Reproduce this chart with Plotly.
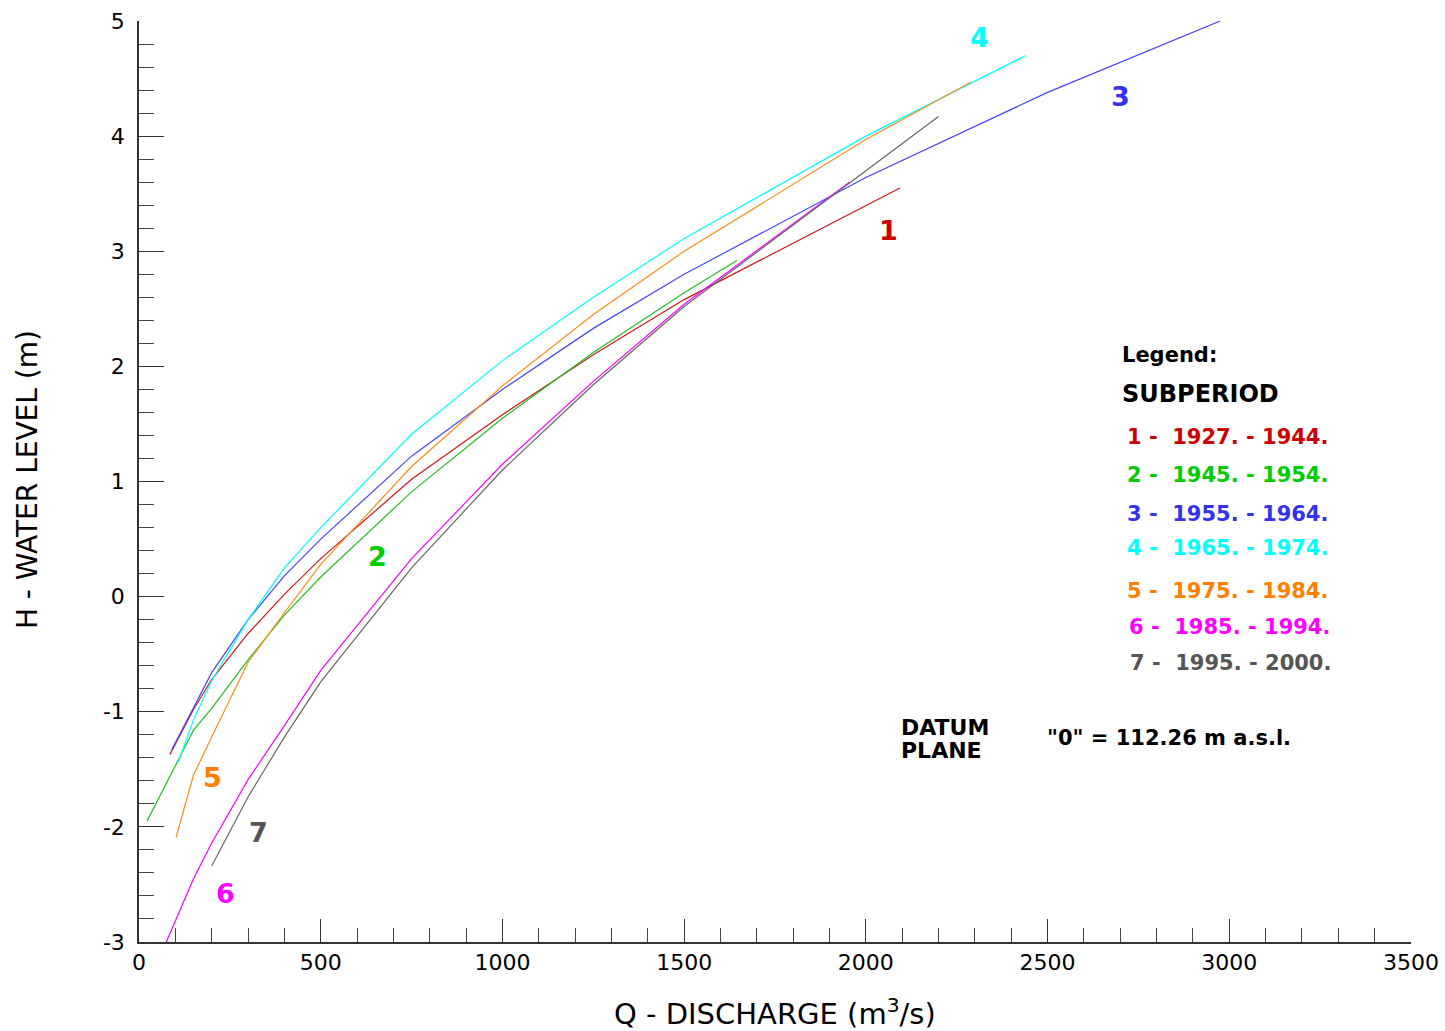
import plotly.graph_objects as go

# ---- data ----
q1 = [85, 150, 200, 300, 400, 500, 750, 1000, 1250, 1500, 2094]
h1 = [-1.37, -0.98, -0.72, -0.32, 0.02, 0.33, 1.02, 1.58, 2.10, 2.58, 3.55]

q2 = [22, 107, 150, 200, 300, 400, 500, 750, 1000, 1250, 1500, 1645]
h2 = [-1.95, -1.43, -1.16, -0.97, -0.55, -0.16, 0.17, 0.91, 1.55, 2.12, 2.64, 2.92]

q3 = [90, 150, 200, 300, 400, 500, 750, 1000, 1250, 1500, 2000, 2500, 2975]
h3 = [-1.33, -0.96, -0.66, -0.20, 0.18, 0.50, 1.22, 1.80, 2.33, 2.80, 3.64, 4.38, 5.00]

q4 = [108, 150, 200, 300, 400, 500, 750, 1000, 1250, 1500, 2000, 2440]
h4 = [-1.44, -1.07, -0.73, -0.20, 0.25, 0.60, 1.41, 2.05, 2.60, 3.11, 4.00, 4.70]

q5 = [102, 150, 200, 300, 400, 500, 750, 1000, 1250, 1500, 2000, 2290]
h5 = [-2.09, -1.55, -1.22, -0.57, -0.14, 0.28, 1.13, 1.83, 2.45, 3.00, 3.97, 4.47]

q6 = [75, 150, 200, 300, 400, 500, 750, 1000, 1250, 1500, 1955]
h6 = [-3.00, -2.45, -2.14, -1.59, -1.12, -0.64, 0.33, 1.15, 1.87, 2.54, 3.60]

q7 = [200, 300, 400, 500, 750, 1000, 1250, 1500, 2000, 2200]
h7 = [-2.34, -1.74, -1.22, -0.74, 0.25, 1.10, 1.84, 2.52, 3.70, 4.17]

series_q = [q1, q2, q3, q4, q5, q6, q7]
series_h = [h1, h2, h3, h4, h5, h6, h7]
line_colors = ["#D01818", "#22C022", "#4545FF", "#00FFFF", "#FF8C1A", "#FF00FF", "#666666"]
text_colors = ["#CC0000", "#00CC00", "#3333EE", "#00FFFF", "#FF8000", "#FF00FF", "#555555"]
subperiods = ["1927. - 1944.", "1945. - 1954.", "1955. - 1964.", "1965. - 1974.",
              "1975. - 1984.", "1985. - 1994.", "1995. - 2000."]

# curve number labels (data coordinates)
label_q = [2063, 655, 2702, 2314, 201, 237, 330]
label_h = [3.18, 0.35, 4.34, 4.86, -1.57, -2.58, -2.05]

# legend rows (data coordinates)
legend_q = [2713, 2713, 2713, 2713, 2713, 2718, 2720]
legend_h = [1.39, 1.06, 0.72, 0.426, 0.052, -0.26, -0.573]

x_ticks = [0, 500, 1000, 1500, 2000, 2500, 3000, 3500]
y_ticks = [-3, -2, -1, 0, 1, 2, 3, 4, 5]

FONT = "DejaVu Sans, Arial, sans-serif"

fig = go.Figure()
for i in range(7):
    fig.add_trace(go.Scatter(x=series_q[i], y=series_h[i], mode="lines",
                             line=dict(color=line_colors[i], width=1.2),
                             showlegend=False, hoverinfo="skip"))

for i in range(7):
    fig.add_annotation(x=label_q[i], y=label_h[i], xref="x", yref="y",
                       text="<b>%d</b>" % (i + 1), showarrow=False,
                       font=dict(family=FONT, size=27, color=text_colors[i]))

fig.add_annotation(x=2699, y=2.10, xref="x", yref="y", xanchor="left",
                   text="<b>Legend:</b>", showarrow=False,
                   font=dict(family=FONT, size=21, color="black"))
fig.add_annotation(x=2699, y=1.764, xref="x", yref="y", xanchor="left",
                   text="<b>SUBPERIOD</b>", showarrow=False,
                   font=dict(family=FONT, size=24, color="black"))
for i in range(7):
    fig.add_annotation(x=legend_q[i], y=legend_h[i], xref="x", yref="y", xanchor="left",
                       text="<b>%d -\u00a0\u00a0%s</b>" % (i + 1, subperiods[i]),
                       showarrow=False,
                       font=dict(family=FONT, size=21, color=text_colors[i]))

fig.add_annotation(x=2091, y=-1.138, xref="x", yref="y", xanchor="left",
                   text="<b>DATUM</b>", showarrow=False,
                   font=dict(family=FONT, size=22, color="black"))
fig.add_annotation(x=2091, y=-1.338, xref="x", yref="y", xanchor="left",
                   text="<b>PLANE</b>", showarrow=False,
                   font=dict(family=FONT, size=22, color="black"))
fig.add_annotation(x=2493, y=-1.225, xref="x", yref="y", xanchor="left",
                   text="<b>\"0\" = 112.26 m a.s.l.</b>", showarrow=False,
                   font=dict(family=FONT, size=21, color="black"))

# axis titles
fig.add_annotation(x=-0.088, y=0.5016, xref="paper", yref="paper",
                   xanchor="center", yanchor="middle",
                   text="H - WATER LEVEL (m)", textangle=-90, showarrow=False,
                   font=dict(family=FONT, size=28, color="black"))
fig.add_annotation(x=0.5, y=-0.076, xref="paper", yref="paper",
                   xanchor="center", yanchor="middle",
                   text="Q - DISCHARGE (m<sup>3</sup>/s)", showarrow=False,
                   font=dict(family=FONT, size=29, color="black"))

fig.update_xaxes(range=[0, 3500], tickvals=x_ticks, ticktext=[str(v) for v in x_ticks],
                 showgrid=False, zeroline=False, showline=True, linecolor="#333333",
                 linewidth=1.5, ticks="inside", ticklen=23, tickwidth=1.3, tickcolor="#333333",
                 minor=dict(ticks="inside", ticklen=14, dtick=100, tickwidth=1.3,
                            tickcolor="#444444", showgrid=False),
                 automargin=False,
                 tickfont=dict(family=FONT, size=22, color="black"))
fig.update_yaxes(range=[-3, 5], tickvals=y_ticks, ticktext=[str(v) for v in y_ticks],
                 showgrid=False, zeroline=False, showline=True, linecolor="#333333",
                 linewidth=1.5, ticks="inside", ticklen=25, tickwidth=1.3, tickcolor="#333333",
                 minor=dict(ticks="inside", ticklen=15, dtick=0.2, tickwidth=1.3,
                            tickcolor="#444444", showgrid=False),
                 ticklabelstandoff=8, automargin=False,
                 tickfont=dict(family=FONT, size=22, color="black"))

fig.update_layout(width=1445, height=1031, plot_bgcolor="white", paper_bgcolor="white",
                  margin=dict(l=139, r=34, t=21, b=89, autoexpand=False), showlegend=False)

fig.write_html("out.html", config={"displayModeBar": False},
               post_script="document.body.style.margin='0';document.body.style.overflow='hidden';")
